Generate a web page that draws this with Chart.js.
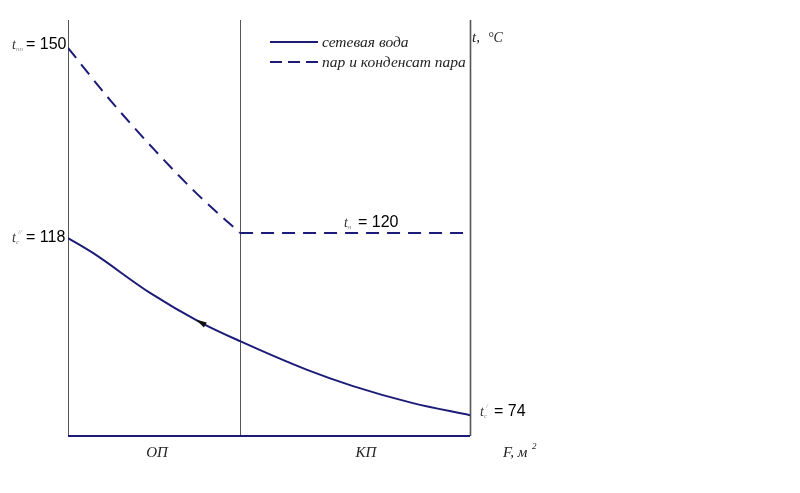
<!DOCTYPE html>
<html>
<head>
<meta charset="utf-8">
<script src="https://cdn.jsdelivr.net/npm/chart.js@4/dist/chart.umd.min.js"></script>
<style>
    html, body { margin: 0; padding: 0; background: #ffffff; }
    #heatChart { display: block; }
</style>
</head>
<body>
<canvas id="heatChart" width="800" height="493"></canvas>
<script>

// Steam cooling part (dashed, curved): F in % of surface, t in chart units
const fSteam = [0, 10.7, 21.4, 32.1, 42.8];
const tSteam = [153.3, 140.5, 128.9, 118.2, 108.8];

// Condensation part (dashed, flat)
const fCond = [42.8, 100];
const tCond = [108.8, 108.8];

// Network water (solid)
const fWater = [0, 6.2, 20.4, 32.8, 42.8, 59.5, 70.9, 85.8, 100];
const tWater = [107.6, 104.0, 94.4, 87.4, 82.8, 75.9, 72.0, 67.9, 65.0];

// zone borders and labels
const zoneBorders = [0, 42.8, 100];
const zoneNames = ['ОП', 'КП'];
const legendNames = ['сетевая вода', 'пар и конденсат пара'];

// values written next to the lines
const tSteamLabel = 150;
const tWaterOutLabel = 118;
const tSatLabel = 120;
const tWaterInLabel = 74;

const NAVY = '#1c1c78';
const GREY = '#555555';
const SERIF_IT = 'italic 15.5px "Liberation Serif", "DejaVu Serif", serif';
const SANS = '16px "Liberation Sans", Arial, sans-serif';

function pts(xs, ys) {
    return xs.map((x, i) => ({ x: x, y: ys[i] }));
}

// draws t with a small subscript/superscript, then "= value"
function tempLabel(ctx, x, y, sub, sup, value) {
    ctx.textBaseline = 'alphabetic';
    ctx.textAlign = 'left';
    ctx.fillStyle = '#333333';
    ctx.font = 'italic 14px "Liberation Serif", serif';
    ctx.fillText('t', x, y);
    ctx.font = 'italic 7px "Liberation Serif", serif';
    ctx.fillStyle = '#888888';
    if (sub) ctx.fillText(sub, x + 4, y + 2);
    if (sup) ctx.fillText(sup, x + 6, y - 8);
    ctx.fillStyle = '#000000';
    ctx.font = SANS;
    ctx.fillText('= ' + value, x + 14, y);
}

const framePlugin = {
    id: 'frame',
    beforeDatasetsDraw(chart) {
        const ctx = chart.ctx;
        const area = chart.chartArea;
        const xs = chart.scales.x;

        ctx.save();
        ctx.strokeStyle = GREY;
        zoneBorders.forEach((f, i) => {
            const px = Math.round(xs.getPixelForValue(f)) + 0.5;
            ctx.lineWidth = i === 2 ? 1.6 : 1;
            ctx.beginPath();
            ctx.moveTo(px, area.top);
            ctx.lineTo(px, area.bottom);
            ctx.stroke();
        });

        ctx.strokeStyle = NAVY;
        ctx.lineWidth = 2;
        ctx.beginPath();
        ctx.moveTo(area.left, area.bottom);
        ctx.lineTo(area.right, area.bottom);
        ctx.stroke();
        ctx.restore();
    },
    afterDatasetsDraw(chart) {
        const ctx = chart.ctx;
        const area = chart.chartArea;
        const xs = chart.scales.x;
        const ys = chart.scales.y;

        ctx.save();

        // legend
        const lx = 270, ly = [42, 62];
        ctx.strokeStyle = NAVY;
        ctx.lineWidth = 2;
        ctx.beginPath();
        ctx.moveTo(lx, ly[0]);
        ctx.lineTo(lx + 48, ly[0]);
        ctx.stroke();
        ctx.setLineDash([12, 6]);
        ctx.beginPath();
        ctx.moveTo(lx, ly[1]);
        ctx.lineTo(lx + 50, ly[1]);
        ctx.stroke();
        ctx.setLineDash([]);

        ctx.fillStyle = '#222222';
        ctx.font = SERIF_IT;
        ctx.textBaseline = 'middle';
        ctx.fillText(legendNames[0], lx + 52, ly[0] + 1);
        ctx.fillText(legendNames[1], lx + 52, ly[1] + 1);

        // axis titles
        ctx.textBaseline = 'alphabetic';
        ctx.font = 'italic 15px "Liberation Serif", serif';
        ctx.fillText('t,', 472, 42);
        ctx.font = 'italic 14px "Liberation Serif", serif';
        ctx.fillText('°C', 488, 42);

        ctx.font = 'italic 15px "Liberation Serif", serif';
        ctx.textAlign = 'center';
        ctx.fillText(zoneNames[0], 157, area.bottom + 21);
        ctx.fillText(zoneNames[1], 366, area.bottom + 21);
        ctx.textAlign = 'left';
        ctx.fillText('F, м', 503, area.bottom + 21);
        ctx.font = 'italic 9px "Liberation Serif", serif';
        ctx.fillText('2', 532, area.bottom + 13);

        // temperature labels
        tempLabel(ctx, 12, 49, 'пп', '', tSteamLabel);
        tempLabel(ctx, 12, 242, 'с', '//', tWaterOutLabel);
        tempLabel(ctx, 344, 227, 'н', '', tSatLabel);
        tempLabel(ctx, 480, 416, 'с', '/', tWaterInLabel);

        // arrow on the water line, pointing to the left
        const ax = xs.getPixelForValue(31.8);
        const ay = ys.getPixelForValue(88.0);
        const bx = xs.getPixelForValue(fWater[2]);
        const by = ys.getPixelForValue(tWater[2]);
        const ang = Math.atan2(by - ay, bx - ax);
        ctx.translate(ax, ay);
        ctx.rotate(ang);
        ctx.fillStyle = '#111111';
        ctx.beginPath();
        ctx.moveTo(0, 0);
        ctx.lineTo(-11, -2.8);
        ctx.lineTo(-11, 2.8);
        ctx.closePath();
        ctx.fill();

        ctx.restore();
    }
};

new Chart(document.getElementById('heatChart'), {
    type: 'line',
    data: {
        datasets: [
            {
                label: legendNames[0],
                data: pts(fWater, tWater),
                borderColor: NAVY,
                borderWidth: 2,
                pointRadius: 0,
                cubicInterpolationMode: 'monotone',
                fill: false
            },
            {
                label: legendNames[1],
                data: pts(fSteam, tSteam),
                borderColor: NAVY,
                borderWidth: 2,
                borderDash: [13, 8],
                pointRadius: 0,
                cubicInterpolationMode: 'monotone',
                fill: false
            },
            {
                label: legendNames[1],
                data: pts(fCond, tCond),
                borderColor: NAVY,
                borderWidth: 2,
                borderDash: [13, 8],
                pointRadius: 0,
                fill: false
            }
        ]
    },
    options: {
        responsive: false,
        animation: false,
        layout: {
            padding: { left: 68, right: 330, top: 20, bottom: 57 }
        },
        plugins: {
            legend: { display: false },
            tooltip: { enabled: false }
        },
        scales: {
            x: { type: 'linear', min: 0, max: 100, display: false },
            y: { type: 'linear', min: 60, max: 160, display: false }
        }
    },
    plugins: [framePlugin]
});

</script>
</body>
</html>
